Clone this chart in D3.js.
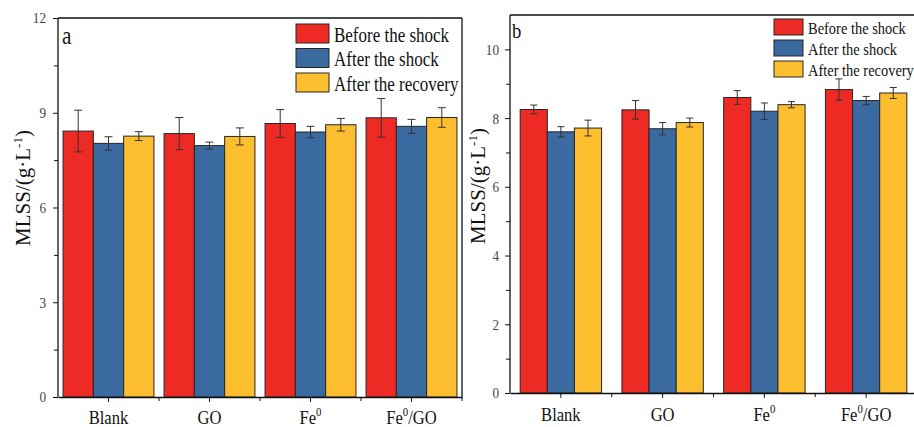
<!DOCTYPE html>
<html>
<head>
<meta charset="utf-8">
<script src="https://cdn.jsdelivr.net/npm/d3@7"></script>
<style>
body { margin: 0; background: #fff; }
text { font-family: "Liberation Serif", "Times New Roman", serif; }
</style>
</head>
<body>
<svg id="chart" width="914" height="427"></svg>
<script>
// categories and series
var categories = ["Blank", "GO", "Fe0", "Fe0/GO"];
var seriesNames = ["Before the shock", "After the shock", "After the recovery"];

// panel a values (g/L) and error bars
var aBefore = [8.42, 8.34, 8.66, 8.84];
var aBeforeErr = [0.66, 0.51, 0.44, 0.61];
var aShock = [8.03, 7.96, 8.39, 8.57];
var aShockErr = [0.21, 0.11, 0.18, 0.22];
var aRecovery = [8.26, 8.25, 8.62, 8.85];
var aRecoveryErr = [0.14, 0.27, 0.20, 0.31];

// panel b values (g/L) and error bars
var bBefore = [8.25, 8.24, 8.60, 8.83];
var bBeforeErr = [0.13, 0.27, 0.20, 0.31];
var bShock = [7.60, 7.69, 8.20, 8.51];
var bShockErr = [0.15, 0.18, 0.24, 0.12];
var bRecovery = [7.71, 7.87, 8.39, 8.73];
var bRecoveryErr = [0.23, 0.13, 0.09, 0.16];

// y ticks
var aMajorTicks = [0, 3, 6, 9, 12];
var aMinorTicks = [1.5, 4.5, 7.5, 10.5];
var bMajorTicks = [0, 2, 4, 6, 8, 10];
var bMinorTicks = [1, 3, 5, 7, 9];

var colors = ["#ee2a24", "#3b6aa0", "#fdbe30"];
var squeeze = 0.85; // the original figure's text is a bit narrow

var svg = d3.select("#chart");

var panels = [
    {
        letter: "a", values: [aBefore, aShock, aRecovery], errors: [aBeforeErr, aShockErr, aRecoveryErr],
        yMax: 12, major: aMajorTicks, minor: aMinorTicks,
        left: 58, right: 462, top: 18, bottom: 397, inner: [0.05, 0.95], cap: 8,
        tickLabelGap: 12, yLabelX: 30, yLabelY: 188,
        legend: { x: 296, y: 24, w: 33, h: 19, step: 24.5, font: 20 },
        letterPos: [62, 44], letterFont: 25
    },
    {
        letter: "b", values: [bBefore, bShock, bRecovery], errors: [bBeforeErr, bShockErr, bRecoveryErr],
        yMax: 11, major: bMajorTicks, minor: bMinorTicks,
        left: 510, right: 917, top: 15, bottom: 393, inner: [0.1, 0.9], cap: 7,
        tickLabelGap: 11, yLabelX: 485, yLabelY: 186,
        legend: { x: 774, y: 19, w: 29, h: 16, step: 21, font: 17 },
        letterPos: [512, 38], letterFont: 22
    }
];

// write "Fe0" with the 0 as a superscript
function categoryLabel(textSel, name) {
    var m = name.match(/^Fe0(.*)$/);
    if (!m) { textSel.text(name); return; }
    textSel.append("tspan").text("Fe");
    textSel.append("tspan").attr("font-size", "65%").attr("dy", "-0.6em").text("0");
    textSel.append("tspan").attr("dy", "0.39em").text(m[1]);
}

panels.forEach(function (p) {
    var g = svg.append("g");

    var x = d3.scaleBand()
        .domain(categories)
        .range([p.left, p.right])
        .padding(0);

    var xs = d3.scaleBand()
        .domain(d3.range(seriesNames.length))
        .range([x.bandwidth() * p.inner[0], x.bandwidth() * p.inner[1]])
        .padding(0);

    var y = d3.scaleLinear()
        .domain([0, p.yMax])
        .range([p.bottom, p.top]);

    // bars
    seriesNames.forEach(function (s, si) {
        var rows = categories.map(function (c, ci) {
            return { cat: c, v: p.values[si][ci], e: p.errors[si][ci] };
        });
        var sg = g.append("g");
        sg.selectAll("rect")
            .data(rows)
            .enter()
            .append("rect")
            .attr("x", function (d) { return x(d.cat) + xs(si); })
            .attr("y", function (d) { return y(d.v); })
            .attr("width", xs.bandwidth())
            .attr("height", function (d) { return y(0) - y(d.v); })
            .attr("fill", colors[si])
            .attr("stroke", "#262626")
            .attr("stroke-width", 1);

        // error bars
        var eb = sg.selectAll(".err")
            .data(rows)
            .enter()
            .append("g")
            .attr("stroke", "#333")
            .attr("stroke-width", 1)
            .attr("transform", function (d) {
                return "translate(" + (x(d.cat) + xs(si) + xs.bandwidth() / 2) + ",0)";
            });
        eb.append("line")
            .attr("y1", function (d) { return y(d.v - d.e); })
            .attr("y2", function (d) { return y(d.v + d.e); });
        eb.append("line")
            .attr("x1", -p.cap / 2).attr("x2", p.cap / 2)
            .attr("y1", function (d) { return y(d.v + d.e); })
            .attr("y2", function (d) { return y(d.v + d.e); });
        eb.append("line")
            .attr("x1", -p.cap / 2).attr("x2", p.cap / 2)
            .attr("y1", function (d) { return y(d.v - d.e); })
            .attr("y2", function (d) { return y(d.v - d.e); });
    });

    // frame top and right
    g.append("line")
        .attr("x1", p.left).attr("x2", p.right)
        .attr("y1", p.top).attr("y2", p.top)
        .attr("stroke", "#111").attr("stroke-width", 1.3);
    g.append("line")
        .attr("x1", p.right).attr("x2", p.right)
        .attr("y1", p.top).attr("y2", p.bottom)
        .attr("stroke", "#111").attr("stroke-width", 1.3);

    // y axis, major then minor
    var yAxis = g.append("g")
        .attr("transform", "translate(" + p.left + ",0)")
        .call(d3.axisLeft(y).tickValues(p.major).tickSize(5).tickSizeOuter(0).tickFormat(d3.format("d")));
    yAxis.select(".domain").attr("stroke", "#111").attr("stroke-width", 1.3)
        .attr("d", "M0," + p.top + "V" + p.bottom);
    yAxis.selectAll(".tick line").attr("stroke", "#111");
    yAxis.selectAll(".tick text")
        .attr("font-size", 15.5)
        .attr("fill", "#444")
        .attr("font-family", "Liberation Serif")
        .attr("x", -p.tickLabelGap / squeeze)
        .attr("transform", "scale(" + squeeze + ",1)");

    g.append("g")
        .attr("transform", "translate(" + p.left + ",0)")
        .call(d3.axisLeft(y).tickValues(p.minor).tickSize(4).tickFormat(""))
        .call(function (a) { a.select(".domain").remove(); a.selectAll("line").attr("stroke", "#111"); });

    // x axis: ticks at category centres and minor ticks on the band edges
    var xAxis = g.append("g")
        .attr("transform", "translate(0," + p.bottom + ")")
        .call(d3.axisBottom(x).tickSize(5).tickSizeOuter(0).tickFormat(""));
    xAxis.select(".domain").attr("stroke", "#111").attr("stroke-width", 1.3);
    xAxis.selectAll(".tick line").attr("stroke", "#111");

    var edges = categories.slice(1).map(function (c) { return x(c); }).concat([p.right]);
    g.append("g").selectAll("line")
        .data(edges)
        .enter()
        .append("line")
        .attr("x1", function (d) { return d; }).attr("x2", function (d) { return d; })
        .attr("y1", p.bottom).attr("y2", p.bottom + 4)
        .attr("stroke", "#111");

    xAxis.selectAll(".tick").each(function (c) {
        var t = d3.select(this).append("text")
            .attr("y", p.bottom > 395 ? 27 : 28)
            .attr("fill", "#111")
            .attr("font-size", 19.5)
            .attr("text-anchor", "middle")
            .attr("transform", "scale(" + squeeze + ",1)");
        categoryLabel(t, c);
    });

    // y axis title
    var yl = g.append("text")
        .attr("transform", "translate(" + p.yLabelX + "," + p.yLabelY + ") rotate(-90)")
        .attr("text-anchor", "middle")
        .attr("font-size", 21)
        .attr("fill", "#111");
    yl.append("tspan").text("MLSS/(g\u00b7L");
    yl.append("tspan").attr("font-size", "62%").attr("dy", "-0.6em").text("-1");
    yl.append("tspan").attr("dy", "0.37em").text(")");

    // panel letter
    g.append("text")
        .attr("transform", "translate(" + p.letterPos[0] + "," + p.letterPos[1] + ") scale(" + squeeze + ",1)")
        .attr("font-size", p.letterFont)
        .attr("fill", "#111")
        .text(p.letter);

    // legend
    var L = p.legend;
    var lg = g.selectAll(".legend")
        .data(seriesNames)
        .enter()
        .append("g")
        .attr("transform", function (d, i) { return "translate(" + L.x + "," + (L.y + i * L.step) + ")"; });
    lg.append("rect")
        .attr("width", L.w).attr("height", L.h)
        .attr("fill", function (d, i) { return colors[i]; })
        .attr("stroke", "#262626").attr("stroke-width", 1);
    lg.append("text")
        .attr("transform", "translate(" + (L.w + 5) + "," + (L.h - 1.5) + ") scale(" + squeeze + ",1)")
        .attr("font-size", L.font)
        .attr("fill", "#111")
        .text(function (d) { return d; });
});
</script>
</body>
</html>
